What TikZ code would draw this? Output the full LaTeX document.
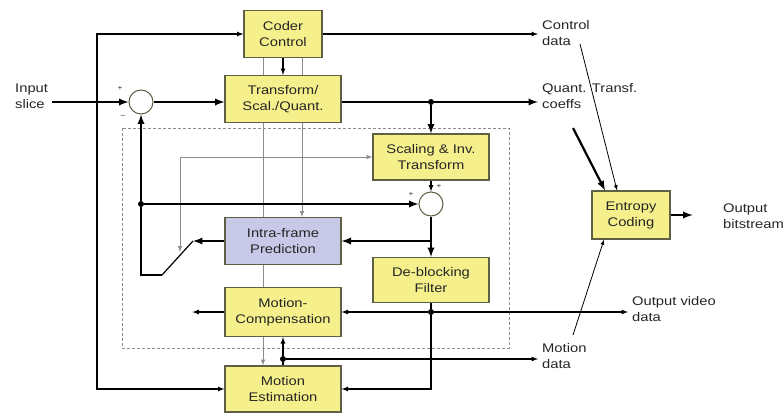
\documentclass[tikz,border=0pt]{standalone}
\usepackage{fontspec}
\setmainfont{Liberation Sans}[FakeStretch=1.18]
\usetikzlibrary{arrows,calc,backgrounds}
\definecolor{blockfill}{RGB}{245,240,140}
\definecolor{blockline}{RGB}{95,95,70}
\definecolor{intrafill}{RGB}{200,200,232}
\definecolor{ctrlgray}{RGB}{140,140,140}
\tikzset{
  block/.style={draw=blockline, fill=blockfill, line width=1.2pt, inner sep=0pt,
    align=center, minimum width=116pt, minimum height=47pt},
  smallblock/.style={block, minimum width=78pt},
  intrablock/.style={block, fill=intrafill},
  adder/.style={circle, draw=blockline, fill=white, line width=1pt, minimum size=24pt, inner sep=0pt},
  lbl/.style={anchor=north west, align=left, inner sep=0pt},
  sig/.style={line width=1.2pt},
  fine/.style={line width=0.8pt},
  heavy/.style={line width=2.2pt},
  ctrl/.style={draw=ctrlgray, line width=1pt},
  dbox/.style={draw=ctrlgray, line width=0.8pt, dash pattern=on 3pt off 2pt},
  jn/.style={circle, fill=black, inner sep=0pt, minimum size=6pt},
  sgn/.style={font=\fontsize{7}{8}\selectfont, inner sep=0pt},
}

\begin{document}
\begin{tikzpicture}[x=1pt,y=-1pt,>=latex,font=\fontsize{12.5}{16}\selectfont,text=black!85]
  \useasboundingbox (0,0) rectangle (783,415);
  % blocks
  \node[smallblock] (cc) at (283,34) {Coder\\Control};
  \node[block] (tsq) at (283,99) {Transform/\\Scal./Quant.};
  \node[block, minimum height=46pt] (sit) at (431,157) {Scaling \& Inv.\\Transform};
  \node[intrablock] (ifp) at (283,241) {Intra-frame\\Prediction};
  \node[block, minimum height=45pt] (dbf) at (431,280) {De-blocking\\Filter};
  \node[block, minimum height=49pt] (mc) at (283,312) {Motion-\\Compensation};
  \node[block, minimum height=46pt] (me) at (283,389) {Motion\\Estimation};
  \node[smallblock, minimum height=48pt] (ec) at (631,215) {Entropy\\Coding};
  \node[adder] (sum1) at (141,102) {};
  \node[adder] (sum2) at (431,204) {};
  \node[sgn] (p1) at (120,88) {+};
  \node[sgn] (m1) at (123,116) {–};
  \node[sgn] (p2) at (411,194) {+};
  \node[sgn] (p3) at (439,186) {+};
  % outside texts
  \node[lbl] (inp) at (15,84) {Input\\slice};
  \node[lbl] (ctl) at (542,20) {Control\\data};
  \node[lbl] (qtc) at (542,83) {Quant. Transf.\\coeffs};
  \node[lbl] (obs) at (723,204) {Output\\bitstream};
  \node[lbl] (ovd) at (632,296) {Output video\\data};
  \node[lbl] (mdt) at (542,343) {Motion\\data};

  % main loop
  \coordinate (src) at (52,102);
  \draw[heavy,->] (src) -- (sum1.west);
  \draw[heavy,->] (sum1.east) -- (sum1.east -| tsq.west);
  \node[jn] (j1) at (sit.north |- sum1) {};
  \draw[heavy] (sum1 -| tsq.east) -- (j1);
  \draw[heavy,->,shorten >=4pt] (j1) -- (j1 -| qtc.west);
  \draw[heavy,->] (j1) -- (sit.north);
  \draw[sig,->] (sit.south) -- (sum2.north);
  \node[jn] (j2) at (sum1 |- sum2) {};
  \draw[heavy,->] (j2) -- (sum2.west);
  \draw[heavy,->] (j2) -- (sum1.south);
  \coordinate (sw1) at (141,275);
  \coordinate (sw2) at (162,275);
  \coordinate (sw3) at (193,241);
  \draw[heavy] (j2) -- (sw1) -- (sw2);
  \draw[sig] (sw2) -- (sw3);
  \draw[heavy,->] (ifp.west) -- (ifp.west -| sw3);
  \draw[heavy,->] (sum2.south) -- (dbf.north);
  \draw[heavy,->] (sum2 |- ifp.east) -- (ifp.east);

  % de-blocking output
  \node[jn] (j3) at (dbf.south |- mc.east) {};
  \draw[sig] (dbf.south) -- (j3);
  \draw[sig,->] (j3) |- (me.east);
  \draw[sig,->] (j3) -- (mc.east);
  \draw[sig,->,shorten >=4pt] (j3) -- (j3 -| ovd.west);
  \draw[sig,->] (mc.west) -- ++(-32,0);

  % motion vectors
  \node[jn] (j4) at (283,359) {};
  \draw[sig] (me.north) -- (j4);
  \draw[sig,->] (j4) -- (mc.south);
  \draw[sig,->,shorten >=4pt] (j4) -- (j4 -| mdt.west);

  % coder control
  \draw[sig,->] (cc.south) -- (tsq.north);
  \draw[sig,->,shorten >=4pt] (cc.east) -- (cc.east -| ctl.west);
  \coordinate (lp) at (97,389);
  \draw[sig,<->] (cc.west) -| (lp) -- (me.west);

  % entropy coding
  \coordinate (cd) at (580,44);
  \coordinate (qc) at (573,128);
  \coordinate (md) at (573,335);
  \draw[fine,->] (cd) -- ($(ec.north)+(-14,0)$);
  \draw[heavy,->] (qc) -- ($(ec.north)+(-26,0)$);
  \draw[fine,->] (md) -- ($(ec.south)+(-27,0)$);
  \draw[heavy,->] (ec.east) -- ++(22,0);

  % control signals behind the blocks
  \begin{scope}[on background layer]
    \draw[ctrl,->] ($(cc.south)+(-20,0)$) -- ($(me.north)+(-20,0)$);
    \draw[ctrl,->] ($(cc.south)+(19,0)$) -- ($(ifp.north)+(19,0)$);
    \coordinate (swt) at (180,252);
    \draw[ctrl,<->] (sit.west) -| (swt);
    \draw[dbox] (122,128) rectangle (509,348);
  \end{scope}
\end{tikzpicture}
\end{document}
